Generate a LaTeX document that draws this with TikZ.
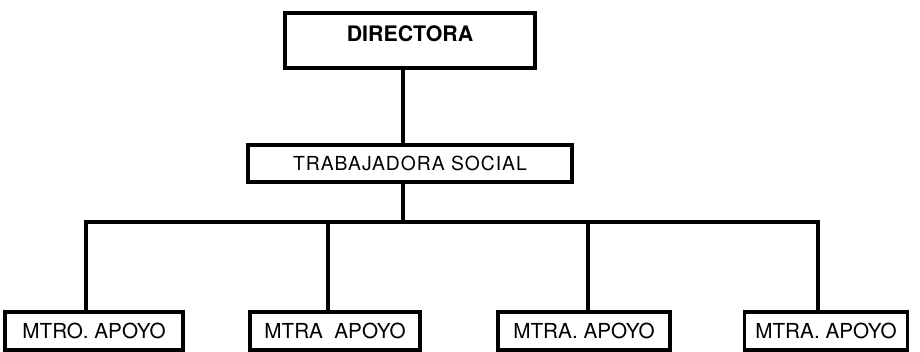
\documentclass[tikz,border=0pt]{standalone}
\usepackage{fontspec}
\setmainfont{TeX Gyre Heros}
\usepackage{tikz}

\begin{document}
\begin{tikzpicture}[x=0.75pt,y=0.75pt,yscale=-1,xscale=1,
  caja/.style={draw, line width=2.8pt, inner sep=0pt, fill=white},
  linea/.style={line width=2.8pt, line join=miter},
  maestra/.style={caja, minimum height=28.5pt, font=\fontsize{15.5}{16}\selectfont}]
\useasboundingbox (0,0) rectangle (920,352);

%Shape: Rectangle [id:directora]
\node [caja, minimum width=187.5pt, minimum height=41.25pt, text height=12pt, text depth=10.5pt, font=\bfseries\fontsize{16}{16}\selectfont] (dir) at (410,40.5) {DIRECTORA};
%Shape: Rectangle [id:trabajadora]
\node [caja, minimum width=243pt, minimum height=27.75pt, font=\fontsize{14.5}{15}\selectfont\addfontfeature{LetterSpace=5}] (ts) at (410,163.5) {TRABAJADORA SOCIAL};

%Shape: Rectangle [id:mtro1]
\node [maestra, minimum width=133.5pt] (m1) at (94,331) {MTRO. APOYO};
%Shape: Rectangle [id:mtra2]
\node [maestra, minimum width=127.5pt] (m2) at (335,331) {MTRA\ \ APOYO};
%Shape: Rectangle [id:mtra3]
\node [maestra, minimum width=129pt] (m3) at (584,331) {MTRA. APOYO};
%Shape: Rectangle [id:mtra4]
\node [maestra, minimum width=122.25pt] (m4) at (826,331) {MTRA. APOYO};

% bus points
\coordinate (c0) at (403,222);
\coordinate (b1) at (86,222);
\coordinate (b2) at (328,222);
\coordinate (b3) at (588,222);
\coordinate (b4) at (818,222);

%Straight Lines [id:directora-trabajadora]
\draw [linea] (c0 |- dir.south) -- (c0 |- ts.north) ;
%Straight Lines [id:trabajadora-bus]
\draw [linea] (c0 |- ts.south) -- (c0) ;
%Straight Lines [id:bus]
\draw [linea] (b1 |- m1.north) -- (b1) -- (b4) -- (b4 |- m4.north) ;
%Straight Lines [id:bus-m2]
\draw [linea] (b2) -- (b2 |- m2.north) ;
%Straight Lines [id:bus-m3]
\draw [linea] (b3) -- (b3 |- m3.north) ;
\end{tikzpicture}
\end{document}
